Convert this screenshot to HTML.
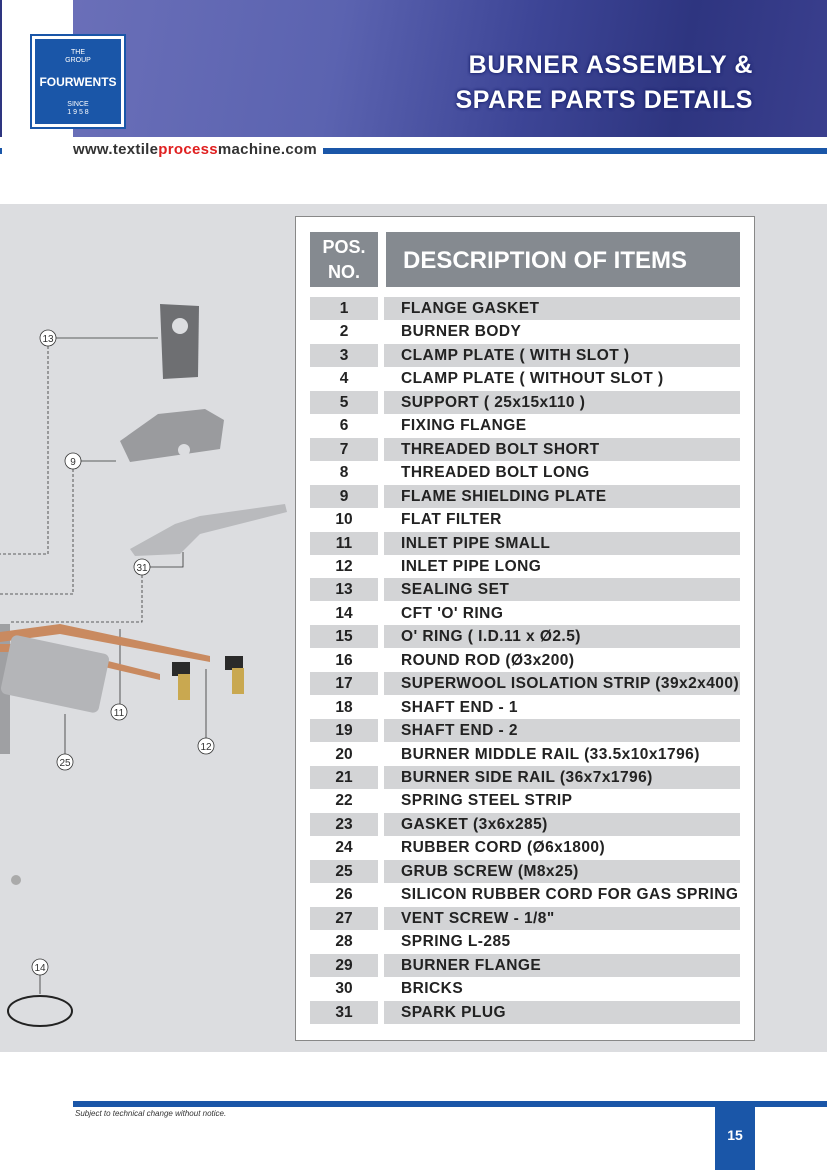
<!DOCTYPE html>
<html><head><meta charset="utf-8"><style>
*{margin:0;padding:0;box-sizing:border-box}
body{width:827px;height:1170px;position:relative;background:#fff;font-family:"Liberation Sans",sans-serif;overflow:hidden}
.abs{position:absolute}
.hdr{left:73px;top:0;width:754px;height:137px;background:linear-gradient(100deg,#6a6fb8 0%,#5b63b0 35%,#3d4596 60%,#2e3580 80%,#3a3f8e 100%)}
.title{right:74px;top:48px;color:#fff;font-weight:bold;font-size:25px;letter-spacing:0.6px;text-align:right;line-height:35px;text-shadow:0 0 3px #1b2470,0 0 3px #1b2470}
.logo{left:32px;top:36px;width:92px;height:91px;background:#1a56a8;border:3px solid #fff;outline:2px solid #1a56a8;color:#fff;text-align:center}
.gray{left:0;top:204px;width:827px;height:848px;background:#dcdde0}
.box{left:295px;top:216px;width:460px;height:825px;background:#fff;border:1px solid #888}
.row{position:absolute;height:23px;font-weight:bold;font-size:15.5px;letter-spacing:0.45px;color:#222;line-height:23px}
.pc{position:absolute;left:310px;width:68px;text-align:center;letter-spacing:0}
.dc{position:absolute;left:384px;width:356px;padding-left:17px;white-space:nowrap}
.sh{background:#d3d4d6}
</style></head><body>
<div class="abs hdr"></div>
<div class="abs" style="left:0;top:0;width:2px;height:137px;background:#2e3580"></div>
<div class="abs title">BURNER ASSEMBLY &amp;<br>SPARE PARTS DETAILS</div>
<div class="abs logo">
<div style="font-size:7px;margin-top:10px;line-height:8px">THE<br>GROUP</div>
<div style="font-size:12px;font-weight:bold;margin-top:10px">FOURWENTS</div>
<div style="font-size:7px;margin-top:12px;line-height:8px">SINCE<br>1 9 5 8</div>
</div>
<div class="abs" style="left:73px;top:141px;font-size:15px;font-weight:bold;color:#333;letter-spacing:0.3px">www.textile<span style="color:#e02020">process</span>machine.com</div>
<div class="abs" style="left:323px;top:148px;width:504px;height:6px;background:#1a56a8"></div>
<div class="abs" style="left:0;top:148px;width:2px;height:6px;background:#1a56a8"></div>

<div class="abs gray"></div>
<svg class="abs" style="left:0;top:204px" width="295" height="848">
<g fill="none" stroke="#333" stroke-width="0.8">
<line x1="55" y1="134" x2="158" y2="134"/>
<line x1="81" y1="257" x2="116" y2="257"/>
<polyline points="150,363 183,363 183,348"/>
<line x1="120" y1="502" x2="120" y2="425"/>
<line x1="206" y1="536" x2="206" y2="465"/>
<line x1="65" y1="552" x2="65" y2="510"/>
<line x1="40" y1="771" x2="40" y2="790"/>
<g stroke-dasharray="3,2">
<polyline points="48,142 48,350 0,350"/>
<polyline points="73,265 73,390 0,390"/>
<polyline points="142,371 142,418 10,418"/>
</g>
</g>
<g fill="#fff" stroke="#333" stroke-width="0.8" font-size="10" text-anchor="middle">
<circle cx="48" cy="134" r="8"/><text x="48" y="138" stroke="none" fill="#333">13</text>
<circle cx="73" cy="257" r="8"/><text x="73" y="261" stroke="none" fill="#333">9</text>
<circle cx="142" cy="363" r="8"/><text x="142" y="367" stroke="none" fill="#333">31</text>
<circle cx="119" cy="508" r="8"/><text x="119" y="512" stroke="none" fill="#333">11</text>
<circle cx="206" cy="542" r="8"/><text x="206" y="546" stroke="none" fill="#333">12</text>
<circle cx="65" cy="558" r="8"/><text x="65" y="562" stroke="none" fill="#333">25</text>
<circle cx="40" cy="763" r="8"/><text x="40" y="767" stroke="none" fill="#333">14</text>
</g>
<ellipse cx="40" cy="807" rx="32" ry="15" fill="none" stroke="#222" stroke-width="2"/>
<path d="M160 100 L199 102 L198 173 L163 175 Z" fill="#6e6f72"/>
<circle cx="180" cy="122" r="8" fill="#dcdde0"/>
<path d="M120 237 L158 210 L205 205 L224 216 L220 245 L130 258 Z" fill="#9a9b9e"/>
<circle cx="184" cy="246" r="6" fill="#dcdde0"/>
<path d="M130 345 L175 320 L200 312 L285 300 L287 308 L200 330 L180 350 L135 352 Z" fill="#b9babd"/>
<path d="M0 420 L10 420 L10 550 L0 550 Z" fill="#9fa0a3"/>
<path d="M0 428 L60 420 L210 452 L210 458 L60 430 L0 438 Z" fill="#c98a60"/>
<path d="M0 440 L40 440 L160 470 L160 476 L40 448 L0 448 Z" fill="#c98a60"/>
<rect x="5" y="440" width="100" height="60" rx="6" fill="#b4b5b8" transform="rotate(12 55 470)"/>
<rect x="172" y="458" width="18" height="14" fill="#2a2a2a"/><rect x="178" y="470" width="12" height="26" fill="#c9a850"/>
<rect x="225" y="452" width="18" height="14" fill="#2a2a2a"/><rect x="232" y="464" width="12" height="26" fill="#c9a850"/>
<circle cx="16" cy="676" r="5" fill="#aaa"/>
</svg>
<div class="abs box"></div>
<div class="abs" style="left:310px;top:232px;width:68px;height:55px;background:#858a90;color:#fff;font-weight:bold;font-size:18px;text-align:center;line-height:25px;padding-top:3px">POS.<br>NO.</div>
<div class="abs" style="left:386px;top:232px;width:354px;height:55px;background:#858a90;color:#fff;font-weight:bold;font-size:24px;line-height:58px;padding-left:17px">DESCRIPTION OF ITEMS</div>
<div id="rows"></div>
<script>
var d=["FLANGE GASKET","BURNER BODY","CLAMP PLATE ( WITH SLOT )","CLAMP PLATE ( WITHOUT SLOT )","SUPPORT  ( 25x15x110 )","FIXING FLANGE","THREADED BOLT SHORT","THREADED BOLT LONG","FLAME SHIELDING PLATE","FLAT FILTER","INLET PIPE SMALL","INLET PIPE LONG","SEALING SET","CFT 'O' RING","O' RING ( I.D.11 x Ø2.5)","ROUND ROD (Ø3x200)","SUPERWOOL ISOLATION STRIP (39x2x400)","SHAFT END - 1","SHAFT END - 2","BURNER MIDDLE RAIL (33.5x10x1796)","BURNER SIDE RAIL (36x7x1796)","SPRING STEEL STRIP","GASKET (3x6x285)","RUBBER CORD (Ø6x1800)","GRUB SCREW (M8x25)","SILICON RUBBER CORD FOR GAS SPRING","VENT SCREW - 1/8\"","SPRING L-285","BURNER FLANGE","BRICKS","SPARK PLUG"];
var h="";for(var i=0;i<31;i++){var t=297+i*23.45;var s=i%2==0?" sh":"";
h+='<div class="row pc'+s+'" style="top:'+t+'px">'+(i+1)+'</div><div class="row dc'+s+'" style="top:'+t+'px">'+d[i]+'</div>';}
document.getElementById("rows").innerHTML=h;
</script>
<div class="abs" style="left:73px;top:1101px;width:754px;height:6px;background:#1a56a8"></div>
<div class="abs" style="left:75px;top:1109px;font-size:8px;font-style:italic;color:#333">Subject to technical change without notice.</div>
<div class="abs" style="left:715px;top:1107px;width:40px;height:63px;background:#1a56a8;color:#fff;font-size:14px;font-weight:bold;text-align:center;padding-top:20px">15</div>
</body></html>
